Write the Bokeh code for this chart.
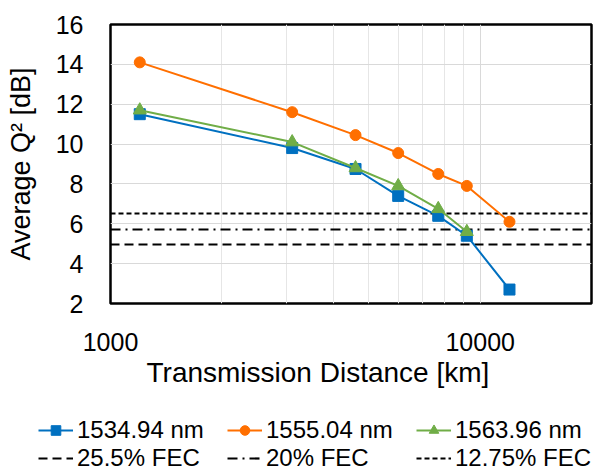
from bokeh.plotting import figure
from bokeh.layouts import column
from bokeh.models import FixedTicker, Legend, LegendItem, Title, PrintfTickFormatter
from bokeh.embed import file_html
from bokeh.resources import INLINE

# ---- data ----
distance_km = [1200, 3100, 4600, 6000, 7700, 9200, 12000]
q_1534 = [11.5, 9.8, 8.75, 7.4, 6.4, 5.4, 2.7]
q_1555 = [14.1, 11.6, 10.45, 9.55, 8.5, 7.9, 6.1]
distance_1563 = [1200, 3100, 4600, 6000, 7700, 9200]
q_1563 = [11.7, 10.1, 8.8, 7.9, 6.75, 5.6]
fec_labels = ["25.5% FEC", "20% FEC", "12.75% FEC"]
fec_q = [4.95, 5.7, 6.5]
x_major = [1000, 10000]
x_minor = [2000, 3000, 4000, 5000, 6000, 7000, 8000, 9000]
y_ticks = [2, 4, 6, 8, 10, 12, 14, 16]

FONT = "Liberation Sans"
BLUE = "#0070C0"
ORANGE = "#FF6F00"
GREEN = "#70AD47"
DASHES = ["9 5", "10 5 2 5", "5 3"]

p = figure(width=601, height=398, x_axis_type="log",
           x_range=(1000, 20000), y_range=(2, 16),
           output_backend="svg", toolbar_location=None,
           min_border_left=110, min_border_right=10,
           min_border_top=24, min_border_bottom=95)
p.frame_align = False
p.outline_line_color = "black"
p.outline_line_width = 2.5
p.background_fill_color = "white"

# axes
p.xaxis.ticker = FixedTicker(ticks=x_major, minor_ticks=x_minor)
p.xaxis.formatter = PrintfTickFormatter(format="%d")
p.yaxis.ticker = FixedTicker(ticks=y_ticks)
for ax in (p.xaxis, p.yaxis):
    ax.axis_line_color = None
    ax.major_tick_line_color = None
    ax.minor_tick_line_color = None
    ax.major_tick_out = 0
    ax.major_tick_in = 0
    ax.minor_tick_out = 0
    ax.minor_tick_in = 0
    ax.major_label_text_font = FONT
    ax.major_label_text_font_size = "25px"
    ax.major_label_text_color = "black"
    ax.axis_label_text_font = FONT
    ax.axis_label_text_font_size = "27px"
    ax.axis_label_text_font_style = "normal"
    ax.axis_label_text_color = "black"
p.xaxis.major_label_standoff = 29
p.yaxis.major_label_standoff = 27
p.yaxis.axis_label = "Average Q² [dB]"
p.yaxis.axis_label_standoff = 17

p.add_layout(Title(text="Transmission Distance [km]", align="left", offset=36,
                   text_font=FONT, text_font_size="28px", text_color="black",
                   text_font_style="normal", standoff=2), "below")

# grid
p.xgrid.grid_line_color = "#D9D9D9"
p.xgrid.minor_grid_line_color = "#E6E6E6"
p.ygrid.grid_line_color = "#D9D9D9"
p.xgrid.grid_line_width = 1
p.ygrid.grid_line_width = 1

# FEC thresholds
for yv, dash in zip(fec_q, DASHES):
    p.hspan(y=[yv], line_color="black", line_width=2.2, line_dash=dash)

# series
series = [
    ("1534.94 nm", distance_km, q_1534, BLUE, "square", 11),
    ("1555.04 nm", distance_km, q_1555, ORANGE, "circle", 11),
    ("1563.96 nm", distance_1563, q_1563, GREEN, "triangle", 13),
]
for label, xs, ys, color, marker, size in series:
    p.line(xs, ys, line_color=color, line_width=2)
    p.scatter(xs, ys, marker=marker, size=size, fill_color=color,
              line_color=color)

# ---- legend strip (separate figure below the chart; its data lies outside its ranges) ----
q = figure(width=601, height=76, x_range=(0, 1), y_range=(0, 1),
           output_backend="svg", toolbar_location=None,
           x_axis_location=None, y_axis_location=None,
           min_border=0, min_border_left=0, min_border_right=0,
           min_border_top=0, min_border_bottom=0)
q.frame_align = False
q.outline_line_color = None
q.xgrid.visible = False
q.ygrid.visible = False

items = []
for label, xs, ys, color, marker, size in series:
    l = q.line(xs, ys, line_color=color, line_width=2)
    s = q.scatter(xs, ys, marker=marker, size=size, fill_color=color,
                  line_color=color)
    items.append(LegendItem(label=label, renderers=[l, s]))
for lab, yv, dash in zip(fec_labels, fec_q, DASHES):
    r = q.hspan(y=[yv], line_color="black", line_width=2.2, line_dash=dash)
    items.append(LegendItem(label=lab, renderers=[r]))

legend = Legend(items=items, location=(38, 2),
                orientation="horizontal", ncols=3,
                label_text_font=FONT, label_text_font_size="24px",
                label_text_color="black",
                label_standoff=4, glyph_width=35, glyph_height=24,
                label_height=24, label_width=150, spacing=0,
                padding=0, margin=0, border_line_color=None,
                background_fill_alpha=0)
q.add_layout(legend, "center")

layout = column(p, q, spacing=0)
open("out.html", "w").write(file_html(layout, INLINE))
